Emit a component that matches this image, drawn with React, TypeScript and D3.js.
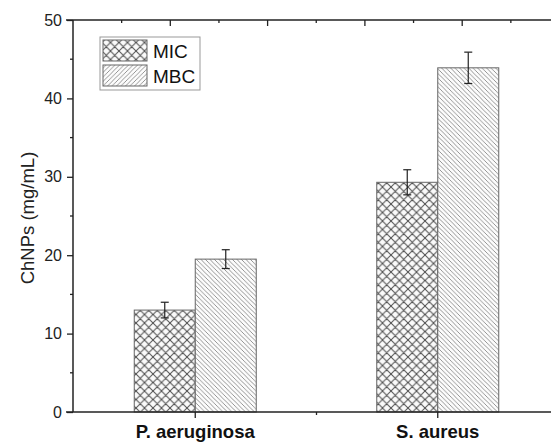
import React, { useRef, useEffect } from 'react'
import * as d3 from 'd3'

const categories = ['P. aeruginosa', 'S. aureus']
const series = ['MIC', 'MBC']
const micValues = [13.0, 29.3]
const micErrors = [1.0, 1.6]
const mbcValues = [19.5, 43.9]
const mbcErrors = [1.2, 2.0]
const yTicks = [0, 10, 20, 30, 40, 50]

const W = 551
const H = 443
const margin = { top: 20, right: -8, bottom: 31, left: 73 }
const FONT = 'Arial, "Liberation Sans", sans-serif'

export default function App() {
  const svgRef = useRef<SVGSVGElement>(null)

  useEffect(() => {
    if (!svgRef.current) return
    const svg = d3.select(svgRef.current)
    svg.selectAll('*').remove()

    const x0 = H - margin.bottom
    const y = d3.scaleLinear().domain([0, 50]).range([H - margin.bottom, margin.top])
    const x = d3.scaleBand().domain(categories).range([margin.left + 1, W - margin.right]).paddingOuter(0).paddingInner(0)
    const xSub = d3.scaleBand().domain(series).range([-61, 61])
    // top axis in the original uses its own spacing
    const xTop = d3.scaleLinear().domain([0, 5]).range([margin.left, 559.5])

    const defs = svg.append('defs')
    // crosshatch for MIC
    const cross = defs.append('pattern').attr('id', 'cross').attr('patternUnits', 'userSpaceOnUse')
      .attr('width', 8.5).attr('height', 8.5)
    cross.append('rect').attr('width', 8.5).attr('height', 8.5).attr('fill', '#fafafa')
    cross.append('path').attr('d', 'M0,0 L8.5,8.5 M8.5,0 L0,8.5 M-1,7.5 L1,9.5 M7.5,-1 L9.5,1 M-1,1 L1,-1 M7.5,9.5 L9.5,7.5')
      .attr('stroke', '#4a4a4a').attr('stroke-width', 1)
    // diagonal stripes for MBC bars
    const diag = defs.append('pattern').attr('id', 'diag').attr('patternUnits', 'userSpaceOnUse')
      .attr('width', 4.5).attr('height', 4.5)
    diag.append('rect').attr('width', 4.5).attr('height', 4.5).attr('fill', '#fcfcfc')
    diag.append('path').attr('d', 'M0,0 L4.5,4.5 M-1,3.5 L1,5.5 M3.5,-1 L5.5,1')
      .attr('stroke', '#8a8a8a').attr('stroke-width', 0.9)
    const diagL = defs.append('pattern').attr('id', 'diagL').attr('patternUnits', 'userSpaceOnUse')
      .attr('width', 4.5).attr('height', 4.5)
    diagL.append('rect').attr('width', 4.5).attr('height', 4.5).attr('fill', '#fcfcfc')
    diagL.append('path').attr('d', 'M0,4.5 L4.5,0 M-1,1 L1,-1 M3.5,5.5 L5.5,3.5')
      .attr('stroke', '#8a8a8a').attr('stroke-width', 0.9)

    const data = categories.map((c, i) => [
      { cat: c, s: 'MIC', v: micValues[i], e: micErrors[i], fill: 'url(#cross)' },
      { cat: c, s: 'MBC', v: mbcValues[i], e: mbcErrors[i], fill: 'url(#diag)' }
    ]).flat()

    const cx = (d: any) => x(d.cat)! + x.bandwidth() / 2 + xSub(d.s)!

    svg.append('g').selectAll('rect').data(data).enter().append('rect')
      .attr('x', d => cx(d))
      .attr('y', d => y(d.v))
      .attr('width', xSub.bandwidth())
      .attr('height', d => y(0) - y(d.v))
      .attr('fill', d => d.fill)
      .attr('stroke', '#666')
      .attr('stroke-width', 1)

    // error bars
    const eb = svg.append('g').attr('stroke', '#222').attr('stroke-width', 1.2)
    data.forEach(d => {
      const mx = cx(d) + xSub.bandwidth() / 2
      eb.append('line').attr('x1', mx).attr('x2', mx).attr('y1', y(d.v + d.e)).attr('y2', y(d.v - d.e))
      eb.append('line').attr('x1', mx - 4).attr('x2', mx + 4).attr('y1', y(d.v + d.e)).attr('y2', y(d.v + d.e))
      eb.append('line').attr('x1', mx - 4).attr('x2', mx + 4).attr('y1', y(d.v - d.e)).attr('y2', y(d.v - d.e))
    })

    const axisColor = '#222'
    // left axis
    const left = svg.append('g').attr('transform', `translate(${margin.left},0)`)
    left.call(d3.axisLeft(y).tickValues(yTicks).tickSize(6).tickPadding(5).tickFormat(d3.format('d')))
    left.attr('font-size', null).attr('font-family', null)
    left.select('.domain').remove()
    left.selectAll('line').attr('stroke', axisColor).attr('stroke-width', 1.3)
    left.selectAll('text').style('font-family', FONT).style('font-size', '16px').attr('fill', '#222')
    left.append('g').selectAll('line').data(d3.range(5, 50, 10)).enter().append('line')
      .attr('x1', -3).attr('x2', 0).attr('y1', d => y(d)).attr('y2', d => y(d))
      .attr('stroke', axisColor).attr('stroke-width', 1.3)
    left.append('line').attr('x1', 0).attr('x2', 0).attr('y1', y(50)).attr('y2', y(0))
      .attr('stroke', axisColor).attr('stroke-width', 1.5)

    // bottom axis
    const bottom = svg.append('g').attr('transform', `translate(0,${x0})`)
    bottom.append('line').attr('x1', 66).attr('x2', W).attr('y1', 0).attr('y2', 0)
      .attr('stroke', axisColor).attr('stroke-width', 1.5)
    categories.forEach(c => {
      const mx = x(c)! + x.bandwidth() / 2
      bottom.append('line').attr('x1', mx).attr('x2', mx).attr('y1', 0).attr('y2', 6)
        .attr('stroke', axisColor).attr('stroke-width', 1.3)
      bottom.append('text').attr('x', mx).attr('y', 26).attr('text-anchor', 'middle')
        .style('font-family', FONT).style('font-size', '18.5px')
        .attr('font-weight', 'bold').attr('fill', '#111').text(c)
    })
    const mid = x(categories[1])!
    bottom.append('line').attr('x1', mid).attr('x2', mid).attr('y1', 0).attr('y2', 3)
      .attr('stroke', axisColor).attr('stroke-width', 1.3)

    // top axis
    const top = svg.append('g').attr('transform', `translate(0,${margin.top})`)
    top.append('line').attr('x1', 66).attr('x2', W).attr('y1', 0).attr('y2', 0)
      .attr('stroke', axisColor).attr('stroke-width', 1.5)
    top.selectAll('.maj').data([1, 2, 3, 4]).enter().append('line')
      .attr('x1', d => xTop(d)).attr('x2', d => xTop(d)).attr('y1', 0).attr('y2', 6)
      .attr('stroke', axisColor).attr('stroke-width', 1.3)
    top.selectAll('.min').data([0.5, 1.5, 2.5, 3.5, 4.5]).enter().append('line')
      .attr('x1', d => xTop(d)).attr('x2', d => xTop(d)).attr('y1', 0).attr('y2', 3)
      .attr('stroke', axisColor).attr('stroke-width', 1.3)

    // y title
    svg.append('text').attr('transform', `translate(34,${(y(0) + y(50)) / 2 + 2}) rotate(-90)`)
      .attr('text-anchor', 'middle').style('font-family', FONT)
      .style('font-size', '18.5px').attr('fill', '#222').text('ChNPs (mg/mL)')

    // legend
    const lg = svg.append('g')
    lg.append('rect').attr('x', 100).attr('y', 37).attr('width', 100).attr('height', 53)
      .attr('fill', 'white').attr('stroke', '#999').attr('stroke-width', 1)
    const lfill = ['url(#cross)', 'url(#diagL)']
    series.forEach((s, i) => {
      lg.append('rect').attr('x', 103).attr('y', 40 + i * 25).attr('width', 44).attr('height', 21)
        .attr('fill', lfill[i]).attr('stroke', '#666').attr('stroke-width', 1)
      lg.append('text').attr('x', 153).attr('y', 58 + i * 25)
        .style('font-family', FONT).style('font-size', '19px')
        .attr('fill', '#111').text(s)
    })
  }, [])

  return (
    <svg ref={svgRef} width={W} height={H} style={{ position: 'absolute', left: 0, top: 0, background: 'white' }} />
  )
}
